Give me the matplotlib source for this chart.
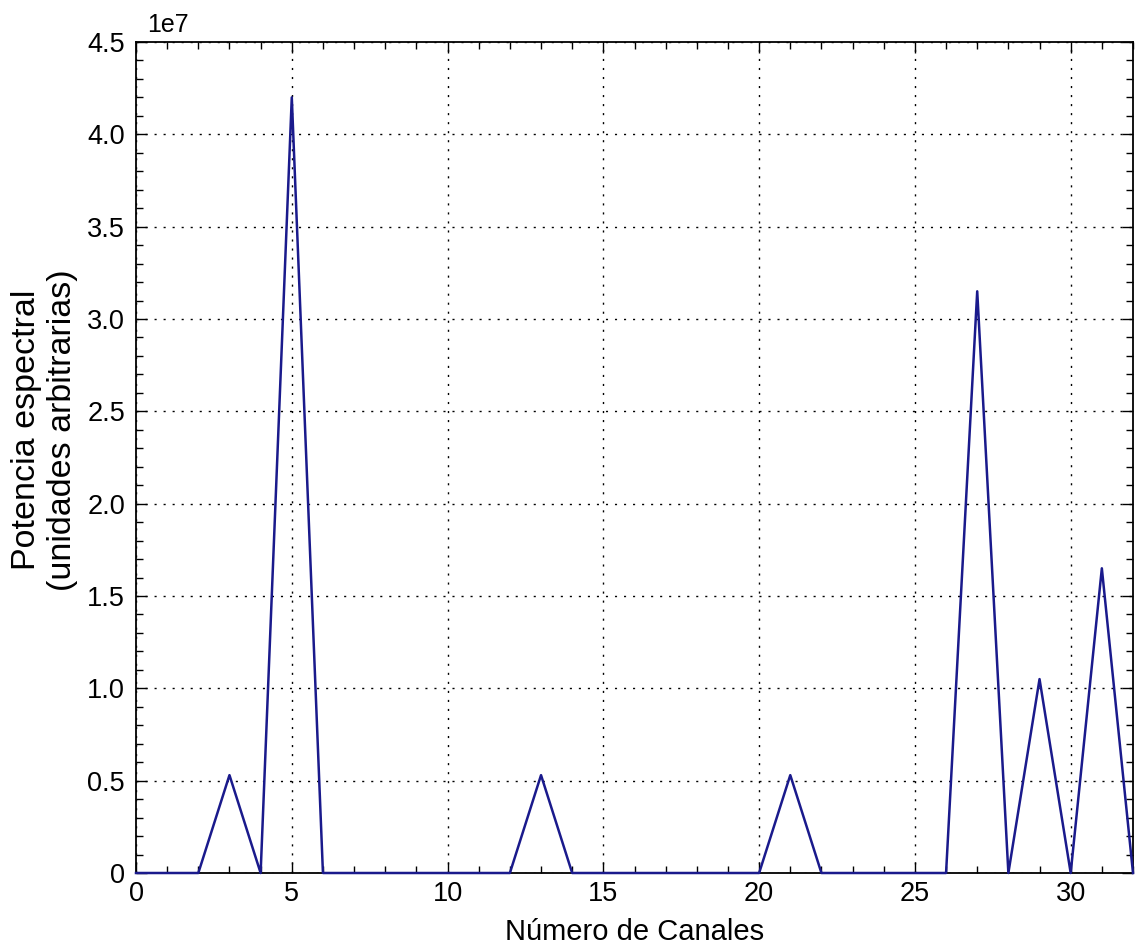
import matplotlib.pyplot as plt
import numpy as np
from matplotlib.ticker import MultipleLocator, FuncFormatter

plt.rcParams['font.family'] = ['Liberation Sans', 'DejaVu Sans']

# channel numbers and spectral power
canales = np.arange(0, 33)
potencia = np.zeros(33)
picos = {3: 0.53e7, 5: 4.2e7, 13: 0.53e7, 21: 0.53e7,
         27: 3.15e7, 29: 1.05e7, 31: 1.65e7}
for k in picos:
    potencia[k] = picos[k]

def fmt(v, pos):
    return '0' if v == 0 else '%.1f' % (v / 1e7)

def fmtx(v, pos):
    return '%d' % v

fig = plt.figure(figsize=(11.36, 9.48), dpi=100)
ax = fig.add_axes([136/1136, 1-873/948, (1133-136)/1136, (873-42)/948])
ax.plot(canales, potencia, color='#1a1a8c', lw=1.8, zorder=3, clip_on=False)

ax.set_xlim(0, 32)
ax.set_ylim(0, 4.5e7)
ax.xaxis.set_major_locator(MultipleLocator(5))
ax.xaxis.set_minor_locator(MultipleLocator(1))
ax.yaxis.set_major_locator(MultipleLocator(0.5e7))
ax.yaxis.set_minor_locator(MultipleLocator(0.1e7))
ax.yaxis.set_major_formatter(FuncFormatter(fmt))
ax.xaxis.set_major_formatter(FuncFormatter(fmtx))
ax.tick_params(which='both', direction='in', top=True, right=True, labelsize=19.5)
ax.tick_params(which='major', length=8, width=1)
ax.tick_params(which='minor', length=5, width=1)
ax.tick_params(axis='x', pad=6)
ax.tick_params(axis='y', pad=8)
for s in ax.spines.values():
    s.set_linewidth(1.3)
ax.grid(True, which='major', color='k', ls=(0, (1.5, 5)), lw=1)

ax.text(11/997, 1 + 10/831, '1e7', transform=ax.transAxes, fontsize=18,
        ha='left', va='baseline')

ax.set_xlabel('Número de Canales', fontsize=21, labelpad=8)
ax.set_ylabel('Potencia espectral\n(unidades arbitrarias)', fontsize=24.5)
ax.yaxis.set_label_coords((78-136)/997, (873-430)/831)

fig.savefig('out.png', dpi=100)
